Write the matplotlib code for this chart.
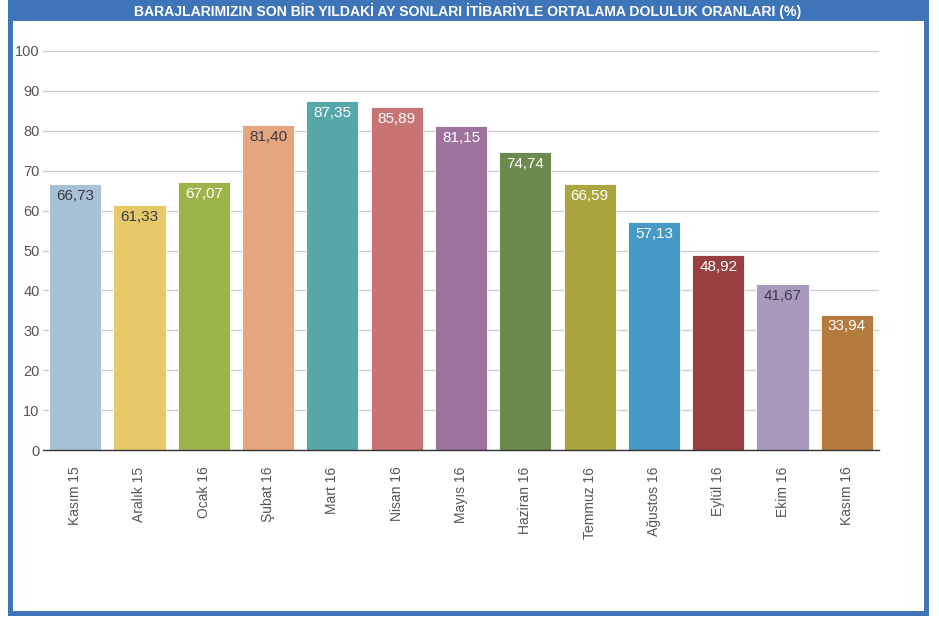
import matplotlib
matplotlib.use("Agg")
import matplotlib.pyplot as plt
from matplotlib.patches import Rectangle

categories = ["Kasım 15", "Aralık 15", "Ocak 16", "Şubat 16", "Mart 16", "Nisan 16",
              "Mayıs 16", "Haziran 16", "Temmuz 16", "Ağustos 16", "Eylül 16", "Ekim 16", "Kasım 16"]
values = [66.73, 61.33, 67.07, 81.40, 87.35, 85.89, 81.15, 74.74, 66.59, 57.13, 48.92, 41.67, 33.94]
colors = ["#a9c1d5", "#e8c96a", "#9cb54a", "#e5a67e", "#56a7a8", "#c97474", "#9e749f",
          "#6c8a4e", "#aba540", "#4499c6", "#983f42", "#a999bd", "#b47a3e"]
label_colors = ["#3a3a48", "#3a3a48", "white", "#3a3a48", "white", "white", "white",
                "white", "white", "white", "white", "#3a3a48", "white"]
yticks = [0, 10, 20, 30, 40, 50, 60, 70, 80, 90, 100]
title = "BARAJLARIMIZIN SON BİR YILDAKİ AY SONLARI İTİBARİYLE ORTALAMA DOLULUK ORANLARI (%)"

plt.rcParams['font.family'] = ['Liberation Sans', 'DejaVu Sans']

W, H = 939, 620
fig = plt.figure(figsize=(W / 100, H / 100), dpi=100)
fig.patch.set_facecolor("white")

# background frame axes
bg = fig.add_axes([0, 0, 1, 1], zorder=0)
bg.set_xlim(0, W)
bg.set_ylim(H, 0)
bg.axis("off")
blue = "#3e74b8"
bg.add_patch(Rectangle((8, 0), 921, 616, facecolor=blue, edgecolor="none"))
bg.add_patch(Rectangle((13, 21), 911, 590, facecolor="white", edgecolor="none"))
bg.text(468, 11, title, ha="center", va="center", color="white",
        fontsize=10.1, fontweight="bold",
        family=['Liberation Sans Narrow', 'Liberation Sans', 'DejaVu Sans'])

left, right, top, bottom = 43, 879, 51, 450
ax = fig.add_axes([left / W, 1 - bottom / H, (right - left) / W, (bottom - top) / H], zorder=2)
ax.set_facecolor("none")

x = list(range(len(categories)))
bars = ax.bar(x, values, width=0.81, color=colors, edgecolor="white", linewidth=0.6, zorder=3)
ax.set_xlim(-0.5, len(categories) - 0.5)
ax.set_ylim(0, 100)
ax.set_yticks(yticks)
ax.set_yticklabels([str(t) for t in yticks], fontsize=10.5, color="#555555")
ax.grid(axis="y", color="#cccccc", linewidth=0.9, zorder=0)
ax.tick_params(axis="y", length=0, pad=2.5)
ax.set_xticks(x)
ax.set_xticklabels(categories, rotation=90, fontsize=10, color="#555555")
ax.tick_params(axis="x", length=0, pad=12)
for s in ["left", "right", "top"]:
    ax.spines[s].set_visible(False)
ax.spines["bottom"].set_color("#333333")
ax.spines["bottom"].set_linewidth(1.0)
ax.spines["bottom"].set_zorder(4)

for xi, v, lc in zip(x, values, label_colors):
    ax.annotate(f"{v:.2f}".replace(".", ","), (xi, v), xytext=(0, -3.5), textcoords="offset points",
                ha="center", va="top", fontsize=11, color=lc, zorder=5)

fig.savefig("out.png", dpi=100, facecolor="white")
